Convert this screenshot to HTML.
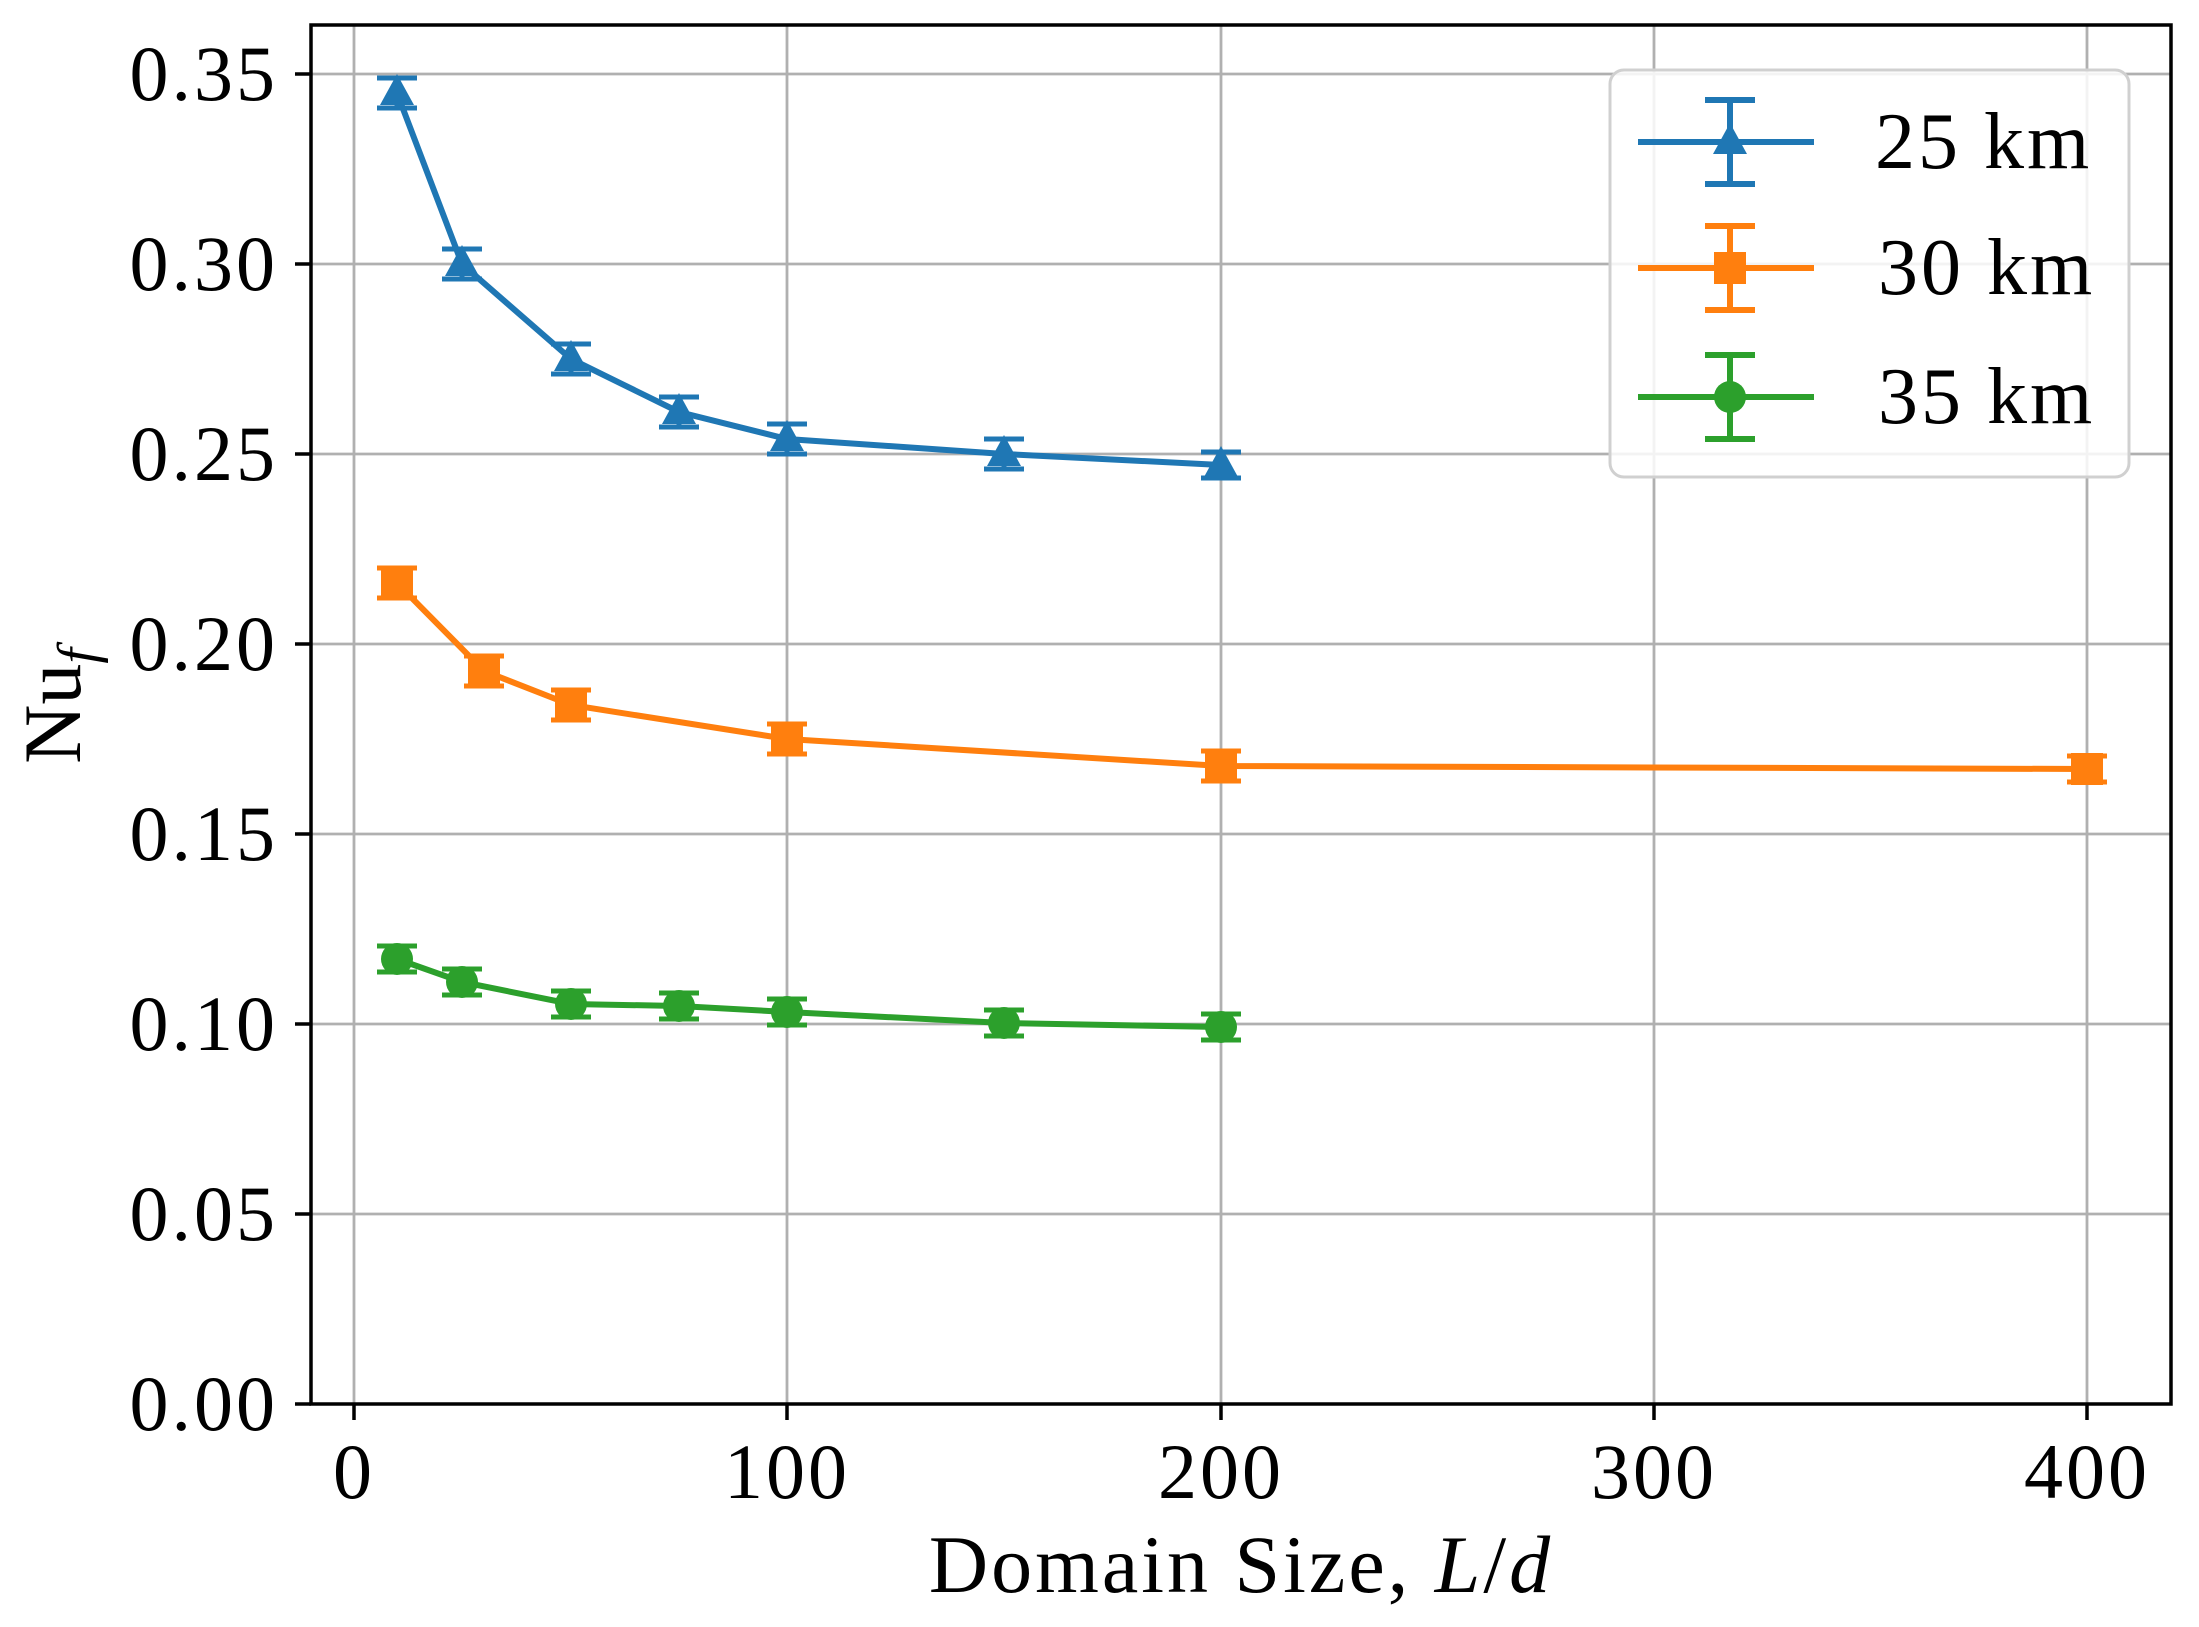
<!DOCTYPE html>
<html><head><meta charset="utf-8"><style>
html,body{margin:0;padding:0;background:#fff;}
svg{display:block;}
text{font-family:"Liberation Serif",serif;fill:#000;}
</style></head><body>
<svg width="2199" height="1627" viewBox="0 0 2199 1627" xmlns="http://www.w3.org/2000/svg">
<defs>
<path id="tri" d="M0,-19 L17,12 L-17,12 Z"/>
<rect id="sq" x="-16" y="-16" width="32" height="32"/>
<circle id="cir" r="16"/>
</defs>
<rect width="2199" height="1627" fill="#fff"/>
<g stroke="#b0b0b0" stroke-width="2.8">
<line x1="311" x2="2171" y1="1404" y2="1404"/>
<line x1="311" x2="2171" y1="1214" y2="1214"/>
<line x1="311" x2="2171" y1="1024" y2="1024"/>
<line x1="311" x2="2171" y1="834" y2="834"/>
<line x1="311" x2="2171" y1="644" y2="644"/>
<line x1="311" x2="2171" y1="454" y2="454"/>
<line x1="311" x2="2171" y1="264" y2="264"/>
<line x1="311" x2="2171" y1="74" y2="74"/>
<line y1="25" y2="1404" x1="354" x2="354"/>
<line y1="25" y2="1404" x1="787" x2="787"/>
<line y1="25" y2="1404" x1="1221" x2="1221"/>
<line y1="25" y2="1404" x1="1654" x2="1654"/>
<line y1="25" y2="1404" x1="2087" x2="2087"/>
</g>
<g stroke="#1f77b4" fill="#1f77b4" stroke-width="6">
<polyline fill="none" points="397,93 462,264 571,359 679,412 787,439 1004,454 1221,465"/>
<g stroke-width="5">
<path d="M397,78V108M377,78H417M377,108H417"/>
<path d="M462,249V279M442,249H482M442,279H482"/>
<path d="M571,344V374M551,344H591M551,374H591"/>
<path d="M679,397V427M659,397H699M659,427H699"/>
<path d="M787,424V454M767,424H807M767,454H807"/>
<path d="M1004,439V469M984,439H1024M984,469H1024"/>
<path d="M1221,452V478M1201,452H1241M1201,478H1241"/>
</g>
<g stroke="none">
<use href="#tri" x="397" y="93"/><use href="#tri" x="462" y="264"/><use href="#tri" x="571" y="359"/><use href="#tri" x="679" y="412"/><use href="#tri" x="787" y="439"/><use href="#tri" x="1004" y="454"/><use href="#tri" x="1221" y="465"/>
</g>
</g>
<g stroke="#ff7f0e" fill="#ff7f0e" stroke-width="6">
<polyline fill="none" points="397,583 484,671 571,705 787,739 1221,766 2087,769"/>
<g stroke-width="5">
<path d="M397,568V598M377,568H417M377,598H417"/>
<path d="M484,656V686M464,656H504M464,686H504"/>
<path d="M571,690V720M551,690H591M551,720H591"/>
<path d="M787,724V754M767,724H807M767,754H807"/>
<path d="M1221,751V781M1201,751H1241M1201,781H1241"/>
<path d="M2087,756V782M2067,756H2107M2067,782H2107"/>
</g>
<g stroke="none">
<use href="#sq" x="397" y="583"/><use href="#sq" x="484" y="671"/><use href="#sq" x="571" y="705"/><use href="#sq" x="787" y="739"/><use href="#sq" x="1221" y="766"/><use href="#sq" x="2087" y="769"/>
</g>
</g>
<g stroke="#2ca02c" fill="#2ca02c" stroke-width="6">
<polyline fill="none" points="397,959 462,982 571,1004 679,1006 787,1012 1004,1023 1221,1027"/>
<g stroke-width="5">
<path d="M397,946V972M377,946H417M377,972H417"/>
<path d="M462,969V995M442,969H482M442,995H482"/>
<path d="M571,991V1017M551,991H591M551,1017H591"/>
<path d="M679,993V1019M659,993H699M659,1019H699"/>
<path d="M787,999V1025M767,999H807M767,1025H807"/>
<path d="M1004,1010V1036M984,1010H1024M984,1036H1024"/>
<path d="M1221,1014V1040M1201,1014H1241M1201,1040H1241"/>
</g>
<g stroke="none">
<use href="#cir" x="397" y="959"/><use href="#cir" x="462" y="982"/><use href="#cir" x="571" y="1004"/><use href="#cir" x="679" y="1006"/><use href="#cir" x="787" y="1012"/><use href="#cir" x="1004" y="1023"/><use href="#cir" x="1221" y="1027"/>
</g>
</g>
<rect x="311" y="25" width="1860" height="1379" fill="none" stroke="#000" stroke-width="3.5"/>
<g stroke="#000" stroke-width="3.5">
<path d="M295,1404H311M295,1214H311M295,1024H311M295,834H311M295,644H311M295,454H311M295,264H311M295,74H311"/>
<path d="M354,1404V1420M787,1404V1420M1221,1404V1420M1654,1404V1420M2087,1404V1420"/>
</g>
<g font-size="78" text-anchor="end" letter-spacing="3">
<text x="278" y="1430">0.00</text>
<text x="278" y="1240">0.05</text>
<text x="278" y="1050">0.10</text>
<text x="278" y="860">0.15</text>
<text x="278" y="670">0.20</text>
<text x="278" y="480">0.25</text>
<text x="278" y="290">0.30</text>
<text x="278" y="100">0.35</text>
</g>
<g font-size="78" text-anchor="middle" letter-spacing="3">
<text x="354" y="1498">0</text>
<text x="787" y="1498">100</text>
<text x="1221" y="1498">200</text>
<text x="1654" y="1498">300</text>
<text x="2087" y="1498">400</text>
</g>
<text x="1241" y="1592" font-size="82" text-anchor="middle" letter-spacing="3">Domain Size, <tspan font-style="italic">L</tspan>/<tspan font-style="italic">d</tspan></text>
<text transform="translate(80,706) rotate(-90)" font-size="82" text-anchor="middle">Nu<tspan font-size="56" font-style="italic" dy="16">f</tspan></text>
<rect x="1610" y="70" width="519" height="407" rx="14" fill="#fff" fill-opacity="0.85" stroke="#d0d0d0" stroke-width="3"/>
<g stroke-width="6">
<g stroke="#1f77b4" fill="#1f77b4"><path d="M1638,142H1814M1730,100V184M1705,100H1755M1705,184H1755"/><use href="#tri" x="1730" y="142" stroke="none"/></g>
<g stroke="#ff7f0e" fill="#ff7f0e"><path d="M1638,268H1814M1730,226V310M1705,226H1755M1705,310H1755"/><use href="#sq" x="1730" y="268" stroke="none"/></g>
<g stroke="#2ca02c" fill="#2ca02c"><path d="M1638,397H1814M1730,355V439M1705,355H1755M1705,439H1755"/><use href="#cir" x="1730" y="397" stroke="none"/></g>
</g>
<g font-size="80" letter-spacing="3">
<text x="1875" y="168">25 km</text>
<text x="1878" y="294">30 km</text>
<text x="1878" y="423">35 km</text>
</g>
</svg>
</body></html>
